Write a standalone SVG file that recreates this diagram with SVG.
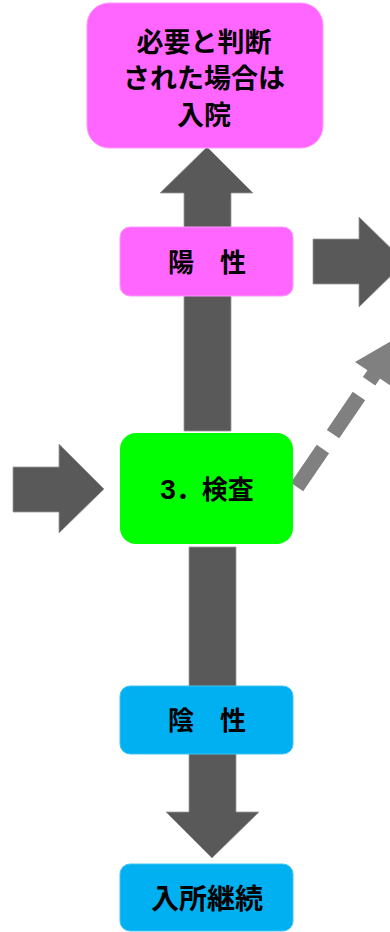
<svg xmlns="http://www.w3.org/2000/svg" width="390" height="932" viewBox="0 0 390 932">
<style>
.arr{fill:#595959;stroke:#9a9a9a;stroke-width:0.8}
.t{font-family:"Noto Sans CJK JP","Noto Sans",sans-serif;font-weight:bold;fill:#000;text-anchor:middle}
.pink{fill:#ff66ff;stroke:#ff99ff;stroke-width:1}
.blue{fill:#00b0f0;stroke:#40c4f4;stroke-width:1}
</style>
<rect width="390" height="932" fill="#fff"/>
<g id="connectors">
<polygon class="arr" points="184,431 184,193 160,193 207,147 253,193 231,193 231,431"/>
<polygon class="arr" points="189,547 236,547 236,812 259,812 212,858 166,812 189,812"/>
<polygon class="arr" points="313,239 359,239 359,217 405,262 359,307 359,284 313,284"/>
<polygon class="arr" points="13,467 59,467 59,444 104,489 59,533 59,512 13,512"/>
<line x1="297" y1="487" x2="374" y2="374" stroke="#808080" stroke-width="15" stroke-dasharray="46 18"/>
<polygon points="355,362 398,337 391,386" fill="#808080"/>
</g>
<g id="node-hospital">
<rect class="pink" x="87" y="3" width="236" height="145" rx="22"/>
<text class="t" x="204" y="52" font-size="27">必要と判断</text>
<text class="t" x="204" y="88" font-size="27">された場合は</text>
<text class="t" x="204" y="125" font-size="27">入院</text>
</g>
<g id="node-positive">
<rect class="pink" x="120" y="227" width="173" height="69" rx="10"/>
<text class="t" x="207" y="272" font-size="26">陽　性</text>
</g>
<g id="node-test">
<rect x="120" y="433" width="173" height="111" rx="16" fill="#00ff00"/>
<text class="t" x="207" y="499" font-size="26"><tspan font-family="Liberation Sans,sans-serif" font-size="28">3</tspan>．検査</text>
</g>
<g id="node-negative">
<rect class="blue" x="120" y="686" width="173" height="68" rx="10"/>
<text class="t" x="207" y="730" font-size="26">陰　性</text>
</g>
<g id="node-continue">
<rect class="blue" x="120" y="864" width="173" height="67" rx="10"/>
<text class="t" x="207" y="909" font-size="28">入所継続</text>
</g>
</svg>
